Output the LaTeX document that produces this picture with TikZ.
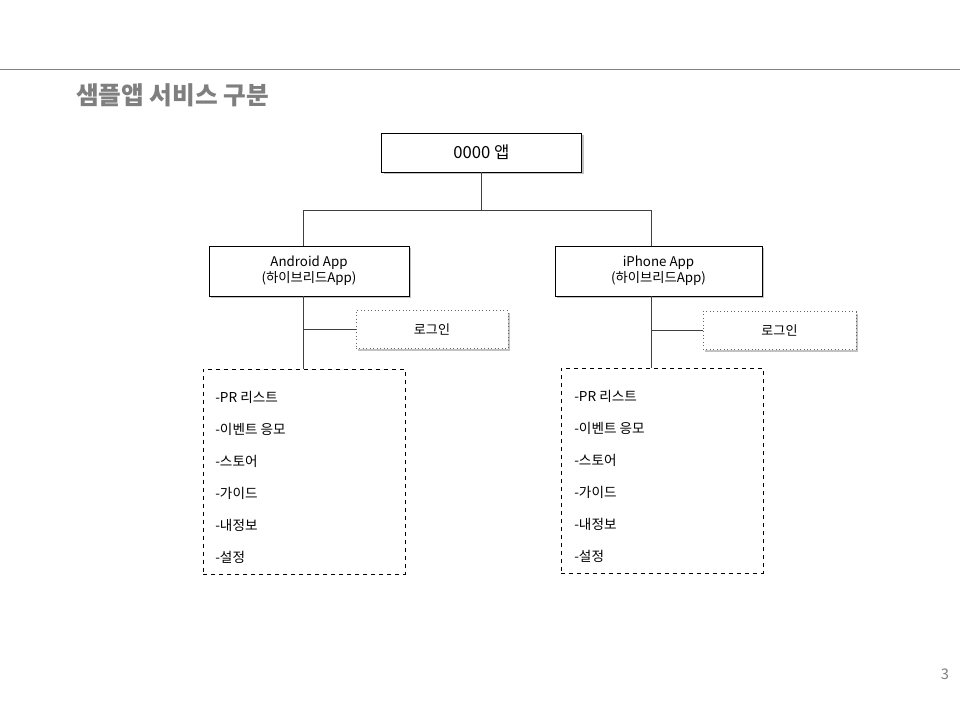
\documentclass[tikz,border=0pt]{standalone}
\usepackage{fontspec}
\setmainfont{Noto Sans CJK KR}
\usetikzlibrary{shadows}
\definecolor{linec}{HTML}{404040}
\definecolor{titlec}{HTML}{7F7F7F}
\tikzset{
  boxshadow/.style={drop shadow={shadow xshift=1.6pt,shadow yshift=-1.6pt,opacity=0.4,fill=black!60}},
  mainbox/.style={draw=black,line width=0.6pt,fill=white,align=center,inner sep=0pt,boxshadow},
  loginbox/.style={draw=black!60,dotted,line width=0.6pt,fill=white,align=center,inner sep=0pt,boxshadow,font=\fontsize{9.8}{11}\selectfont},
  listbox/.style={draw=black,dashed,line width=0.5pt,inner sep=0pt},
  listtext/.style={align=left,inner sep=0pt,anchor=west,font=\fontsize{10.2}{24}\selectfont},
  conn/.style={draw=linec,line width=0.7pt},
}
\begin{document}
\begin{tikzpicture}[x=0.75pt,y=-0.75pt]
\useasboundingbox (0,0) rectangle (960,720);
% header rule and title
\draw[draw=titlec,line width=0.7pt] (0,69) coordinate (r1) -- (960,69) coordinate (r2);
\node[anchor=west,inner sep=0pt,text=titlec,font=\fontsize{18.5}{20}\selectfont\bfseries] (title) at (76,95) {샘플앱 서비스 구분};
\node[anchor=center,inner sep=0pt,text=titlec,font=\fontsize{11}{13}\selectfont] (pnum) at (945,674) {3};
% boxes
\node[mainbox,minimum width=150pt,minimum height=29.25pt,font=\fontsize{12.5}{14}\selectfont] (top) at (481.5,152.5) {0000 앱};
\node[mainbox,minimum width=150pt,minimum height=37.5pt,font=\fontsize{10}{12}\selectfont] (and) at (309,271) {Android App\\(하이브리드App)};
\node[mainbox,minimum width=155.25pt,minimum height=37.5pt,font=\fontsize{10}{12}\selectfont] (ip) at (658.5,271) {iPhone App\\(하이브리드App)};
\node[loginbox,minimum width=114pt,minimum height=28.5pt] (logL) at (432,329.5) {로그인};
\node[loginbox,minimum width=114.75pt,minimum height=28.5pt] (logR) at (779.5,330.5) {로그인};
\node[listbox,minimum width=151.5pt,minimum height=153.75pt] (detL) at (304,471.5) {};
\node[listbox,minimum width=151.5pt,minimum height=153.75pt] (detR) at (662,470.5) {};
\node[listtext] (txtL) at (215,477) {-PR 리스트\\-이벤트 응모\\-스토어\\-가이드\\-내정보\\-설정};
\node[listtext] (txtR) at (574,476) {-PR 리스트\\-이벤트 응모\\-스토어\\-가이드\\-내정보\\-설정};
% connectors
\coordinate (j) at (481,210);
\coordinate (jl) at (303,210);
\coordinate (jr) at (651,210);
\draw[conn] (top.south -| j) -- (j);
\draw[conn] (jl) -- (jr);
\draw[conn] (jl) -- (jl |- and.north);
\draw[conn] (jr) -- (jr |- ip.north);
\draw[conn] (jl |- and.south) -- (jl |- detL.north);
\draw[conn] (jr |- ip.south) -- (jr |- detR.north);
\draw[conn] (jl |- logL.west) -- (logL.west);
\draw[conn] (jr |- logR.west) -- (logR.west);
\end{tikzpicture}
\end{document}
